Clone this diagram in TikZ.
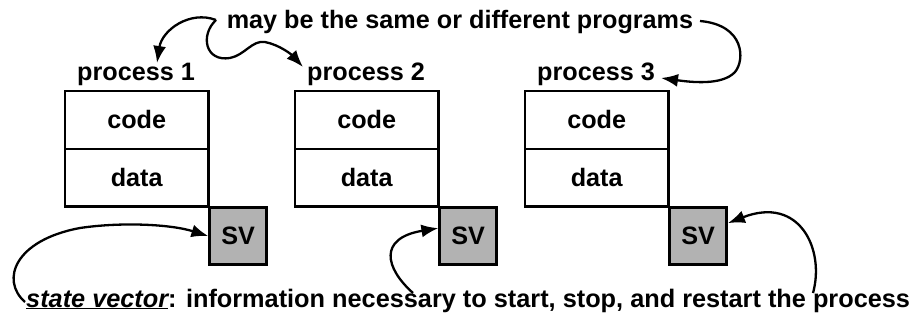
\documentclass[tikz,border=0pt]{standalone}
\usepackage{fontspec}
\setmainfont{Liberation Sans}
\usetikzlibrary{arrows.meta}
\begin{document}
\begin{tikzpicture}[x=1pt,y=-1pt,
  txt/.style={font=\fontsize{25.2}{28}\selectfont\bfseries, inner sep=0pt},
  cell/.style={txt, minimum width=143pt, minimum height=57.5pt, anchor=north west},
  svbox/.style={txt, draw, line width=2.5pt, fill=black!30, minimum width=57pt, minimum height=57pt, anchor=north west},
  outline/.style={line width=2.5pt},
  divider/.style={line width=1.2pt},
  conn/.style={line width=2.3pt, -{Latex[length=17pt,width=13pt]}}]
\useasboundingbox (0,0) rectangle (919,322);
\foreach \i/\x in {1/65,2/295,3/525}{
  \node[cell] (code\i) at (\x,91) {code};
  \node[cell] (data\i) at (\x,148.5) {data};
  \draw[divider] (code\i.south west) -- (code\i.south east);
  \draw[outline] (code\i.north west) rectangle (data\i.south east);
  \node[svbox] (sv\i) at (data\i.south east) {SV};
}
\node[txt, anchor=base] (p1) at (136,80) {process 1};
\node[txt, anchor=base] (p2) at (366,80) {process 2};
\node[txt, anchor=base] (p3) at (596,80) {process 3};
\node[txt, anchor=base] (top) at (460,28) {may be the same or different programs};
\node[txt, anchor=base west, font=\fontsize{25.3}{28}\selectfont\bfseries] (bot) at (26,307) {\underline{\itshape state vector}: information necessary to start, stop, and restart the process};
% top arrows
\coordinate (s1) at (216,20);
\coordinate (s3) at (700,21);
\draw[conn] (s1) .. controls (190,10) and (162,30) .. (157,63);
\draw[conn] (s1) .. controls (200,35) and (205,62) .. (230,58)
  .. controls (245,55) and (252,40) .. (265,42)
  .. controls (280,45) and (292,55) .. (303,67);
\draw[conn] (s3) .. controls (745,25) and (745,60) .. (735,72)
  .. controls (722,86) and (690,82) .. (661,78);
% bottom arrows
\coordinate (b1) at (25,302);
\coordinate (b2) at (413,293);
\coordinate (b3) at (813,293);
\draw[conn] (b1) .. controls (0,280) and (15,240) .. (80,228)
  .. controls (120,222) and (170,224) .. (sv1.west);
\draw[conn] (b2) .. controls (385,268) and (378,238) .. ([yshift=8pt]sv2.west);
\draw[conn] (b3) .. controls (825,250) and (800,195) .. ([yshift=13pt]sv3.east);
\end{tikzpicture}
\end{document}
